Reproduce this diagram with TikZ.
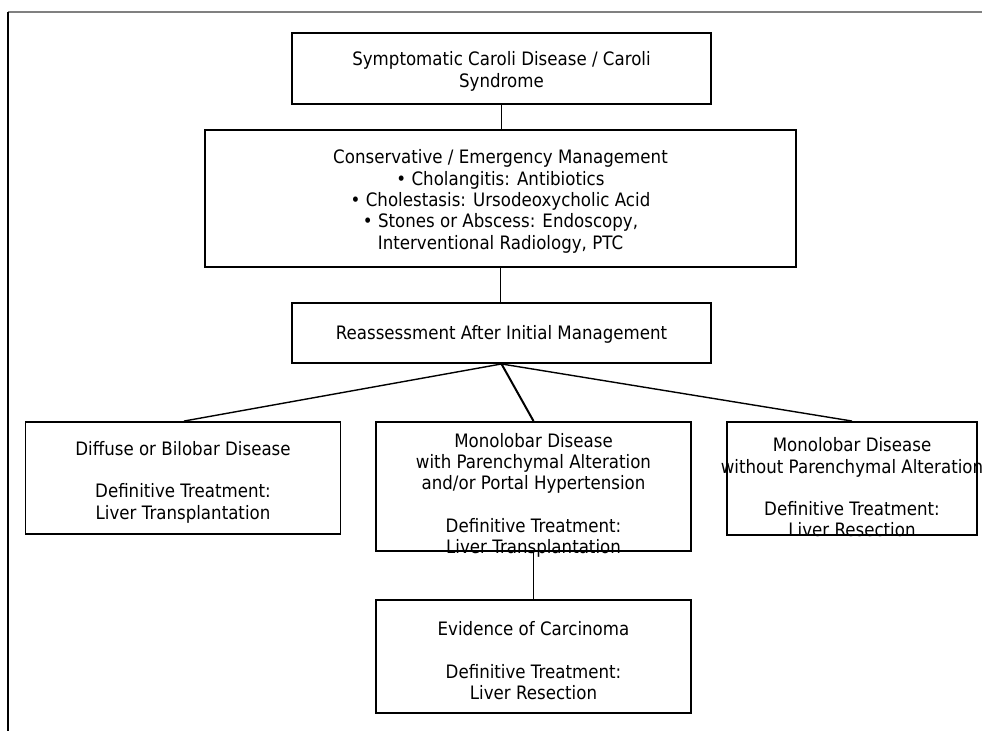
\documentclass[tikz,border=0pt]{standalone}
\usepackage{fontspec}
\setmainfont[FakeStretch=0.9]{DejaVu Sans}
\usepackage{tikz}
\usetikzlibrary{positioning}
\newcommand{\lift}[1]{\rule{0pt}{#1}}

\begin{document}
\begin{tikzpicture}[x=1pt,y=-1pt,
		box/.style={draw,line width=1.9pt,align=center,inner xsep=-10pt,inner ysep=-10pt,
			font=\fontsize{18.5}{21.3}\selectfont},
		link/.style={line width=1.4pt}]
		\useasboundingbox (0,0) rectangle (982,731);
		\draw[gray,line width=1.6pt] (8,12) -- (982,12);
		\draw[line width=1.3pt] (8,12) -- (8,731);
		
		\node[box,minimum width=419pt,minimum height=71pt] (symp) at (501.5,68.5)
			{\lift{20pt}Symptomatic Caroli Disease / Caroli\\Syndrome};
		\node[box,minimum width=591pt,minimum height=137pt] (cons) at (500.5,198.5)
			{\lift{20pt}Conservative / Emergency Management\\• Cholangitis: Antibiotics\\• Cholestasis: Ursodeoxycholic Acid\\• Stones or Abscess: Endoscopy,\\Interventional Radiology, PTC};
		\node[box,minimum width=419pt,minimum height=60pt] (reas) at (501.5,333)
			{\lift{16pt}Reassessment After Initial Management};
		\node[box,minimum width=315pt,minimum height=112pt] (diff) at (183,478)
			{\lift{22pt}Diffuse or Bilobar Disease\\[21.3pt]Definitive Treatment:\\Liver Transplantation};
		\node[box,minimum width=315pt,minimum height=129pt] (mono) at (533.5,486.5)
			{\lift{32pt}Monolobar Disease\\with Parenchymal Alteration\\and/or Portal Hypertension\\[21.3pt]Definitive Treatment:\\Liver Transplantation};
		\node[box,minimum width=250pt,minimum height=113pt] (monon) at (852,478.5)
			{\lift{32pt}Monolobar Disease\\without Parenchymal Alteration\\[21.3pt]Definitive Treatment:\\Liver Resection};
		\node[box,minimum width=315pt,minimum height=113pt] (carc) at (533.5,656.5)
			{\lift{22pt}Evidence of Carcinoma\\[21.3pt]Definitive Treatment:\\Liver Resection};
		
		\draw[link] (symp.south) -- (symp.south |- cons.north);
		\draw[link] (cons.south) -- (cons.south |- reas.north);
		\draw[link] (reas.south) -- ([xshift=1pt]diff.north);
		\draw[link,line width=2pt] (reas.south) -- (mono.north);
		\draw[link] (reas.south) -- (monon.north);
		\draw[link] (mono.south) -- (carc.north);
		
	\end{tikzpicture}
\end{document}
